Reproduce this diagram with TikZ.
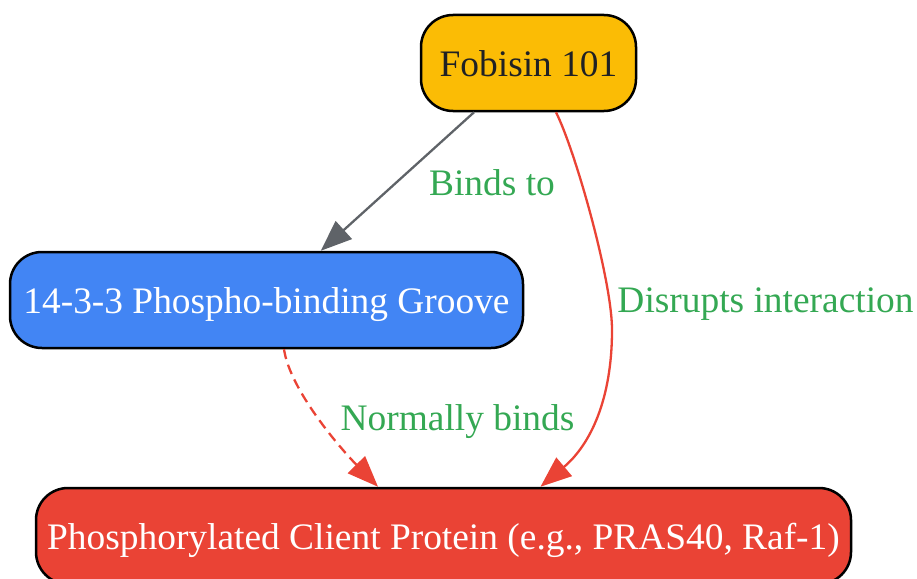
\documentclass[tikz,border=0pt]{standalone}
\usepackage{fontspec}
\setmainfont{Liberation Serif}
\usetikzlibrary{arrows.meta,calc}
\definecolor{gyellow}{HTML}{FBBC05}
\definecolor{gblue}{HTML}{4285F4}
\definecolor{gred}{HTML}{EA4335}
\definecolor{ggreen}{HTML}{34A853}
\definecolor{ggray}{HTML}{5F6368}
\definecolor{gdark}{HTML}{202124}
\tikzset{
  box/.style={draw=black, line width=2.5pt, rounded corners=32pt, inner sep=0pt,
    minimum height=96pt, text height=35pt, text depth=9pt,
    font=\fontsize{37.4pt}{44pt}\selectfont},
  lbl/.style={text=ggreen, anchor=base, inner sep=0pt, font=\fontsize{37.4pt}{44pt}\selectfont},
  edge/.style={line width=2.3pt, -{Triangle[length=31pt,width=24pt]}},
}
\begin{document}
\begin{tikzpicture}[x=1pt,y=-1pt]
\useasboundingbox (0,0) rectangle (917,578);
\clip (0,0) rectangle (917,578);
\node[box, fill=gyellow, text=gdark, minimum width=215pt] (fob) at (528.5,63) {Fobisin 101};
\node[box, fill=gblue, text=white, minimum width=513pt] (groove) at (266.5,300) {14-3-3 Phospho-binding Groove};
\node[box, fill=gred, text=white, minimum width=815pt] (client) at (443.5,536) {Phosphorylated Client Protein (e.g., PRAS40, Raf-1)};
\draw[edge, draw=ggray] (fob) -- (groove);
\draw[edge, draw=gred] ($(fob.south)+(27.5,0)$) .. controls (575,150) and (612,280) .. (612,330)
  .. controls (612,400) and (590,445) .. ($(client.north)+(97,0)$);
\draw[edge, draw=gred, dash pattern=on 10pt off 6pt] ($(groove.south)+(17.5,0)$) .. controls (290,390) and (340,448) .. ($(client.north)+(-65.5,0)$);
\node[lbl] (l1) at (492,195) {Binds to};
\node[lbl] (l2) at (765.5,312) {Disrupts interaction};
\node[lbl] (l3) at (457.5,430) {Normally binds};
\end{tikzpicture}
\end{document}
